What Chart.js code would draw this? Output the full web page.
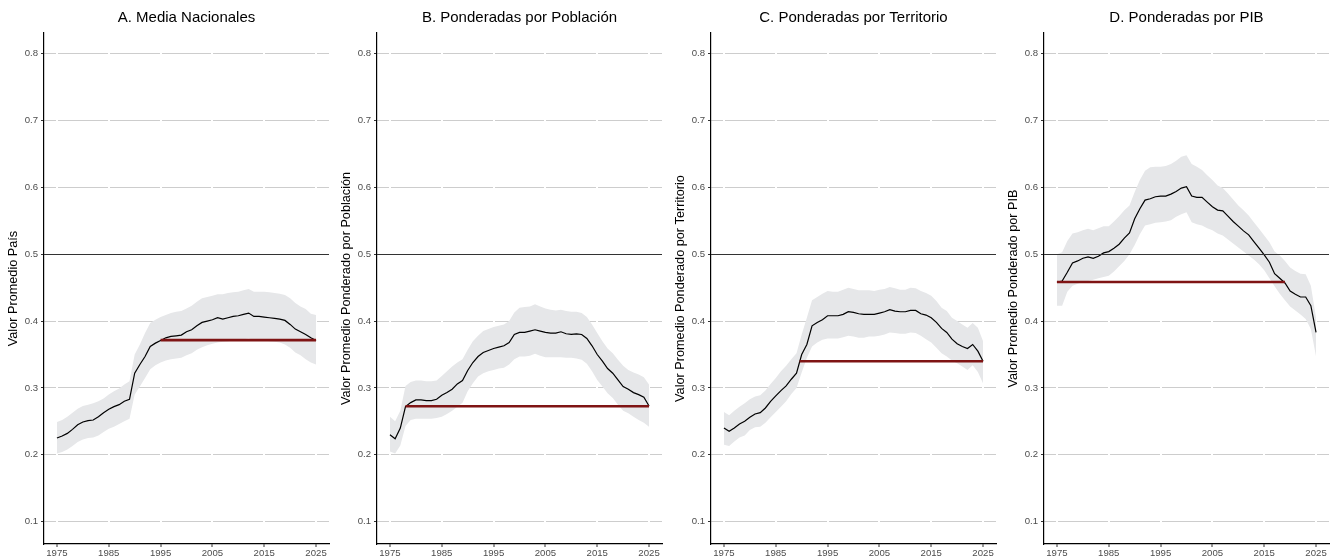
<!DOCTYPE html>
<html>
<head>
<meta charset="utf-8">
<script src="https://cdn.jsdelivr.net/npm/chart.js@4.4.1/dist/chart.umd.min.js"></script>
<style>
  body { margin: 0; background: #fff; }
  #wrap { position: relative; width: 1336px; height: 560px; }
  #wrap canvas { position: absolute; top: 0; }
</style>
</head>
<body>
<div id="wrap"></div>
<script>
const YEARS = [1975, 1976, 1977, 1978, 1979, 1980, 1981, 1982, 1983, 1984, 1985, 1986, 1987, 1988, 1989,
  1990, 1991, 1992, 1993, 1994, 1995, 1996, 1997, 1998, 1999, 2000, 2001, 2002, 2003, 2004, 2005,
  2006, 2007, 2008, 2009, 2010, 2011, 2012, 2013, 2014, 2015, 2016, 2017, 2018, 2019, 2020,
  2021, 2022, 2023, 2024, 2025];

const X_TICKS = [1975, 1985, 1995, 2005, 2015, 2025];
const Y_TICKS = [0.1, 0.2, 0.3, 0.4, 0.5, 0.6, 0.7, 0.8];
const MIDLINE = 0.5;

const TITLES = ['A. Media Nacionales', 'B. Ponderadas por Población', 'C. Ponderadas por Territorio', 'D. Ponderadas por PIB'];
const Y_TITLES = ['Valor Promedio País', 'Valor Promedio Ponderado por Población',
  'Valor Promedio Ponderado por Territorio', 'Valor Promedio Ponderado por PIB'];

// A. media nacionales
const A_MEAN = [0.225, 0.228, 0.232, 0.238, 0.245, 0.249, 0.251, 0.252, 0.257, 0.263, 0.268, 0.272, 0.275, 0.280, 0.283,
  0.322, 0.335, 0.347, 0.362, 0.367, 0.371, 0.375, 0.377, 0.378, 0.379, 0.384, 0.387, 0.393, 0.398, 0.400, 0.402,
  0.405, 0.403, 0.405, 0.407, 0.408, 0.410, 0.412, 0.407, 0.407, 0.406, 0.405, 0.404, 0.403, 0.401, 0.395,
  0.388, 0.384, 0.380, 0.375, 0.371];
const A_LOW = [0.202, 0.204, 0.208, 0.213, 0.219, 0.223, 0.225, 0.226, 0.229, 0.234, 0.239, 0.242, 0.246, 0.250, 0.254,
  0.290, 0.302, 0.315, 0.328, 0.334, 0.338, 0.341, 0.343, 0.344, 0.345, 0.349, 0.352, 0.357, 0.361, 0.364, 0.366,
  0.368, 0.369, 0.370, 0.371, 0.372, 0.373, 0.374, 0.372, 0.371, 0.371, 0.370, 0.369, 0.368, 0.365, 0.360,
  0.353, 0.349, 0.343, 0.338, 0.335];
const A_HIGH = [0.249, 0.252, 0.257, 0.263, 0.269, 0.273, 0.275, 0.277, 0.280, 0.284, 0.290, 0.295, 0.299, 0.305, 0.310,
  0.350, 0.365, 0.382, 0.397, 0.402, 0.406, 0.409, 0.412, 0.414, 0.415, 0.419, 0.423, 0.429, 0.434, 0.436, 0.438,
  0.440, 0.440, 0.442, 0.443, 0.444, 0.446, 0.448, 0.444, 0.444, 0.444, 0.443, 0.442, 0.441, 0.439, 0.434,
  0.427, 0.422, 0.418, 0.411, 0.409];

// B. ponderadas por poblacion
const B_MEAN = [0.230, 0.224, 0.240, 0.272, 0.278, 0.282, 0.282, 0.281, 0.281, 0.283, 0.289, 0.293, 0.298, 0.306, 0.311,
  0.326, 0.338, 0.347, 0.353, 0.356, 0.359, 0.361, 0.363, 0.368, 0.380, 0.383, 0.383, 0.385, 0.387, 0.385, 0.383,
  0.382, 0.382, 0.384, 0.381, 0.380, 0.381, 0.380, 0.374, 0.363, 0.350, 0.340, 0.329, 0.322, 0.312, 0.302,
  0.298, 0.293, 0.290, 0.286, 0.273];
const B_LOW = [0.205, 0.202, 0.214, 0.243, 0.252, 0.254, 0.254, 0.254, 0.254, 0.255, 0.257, 0.261, 0.266, 0.272, 0.278,
  0.295, 0.307, 0.317, 0.322, 0.325, 0.327, 0.329, 0.330, 0.335, 0.343, 0.347, 0.347, 0.348, 0.351, 0.348, 0.346,
  0.346, 0.346, 0.346, 0.345, 0.345, 0.344, 0.342, 0.336, 0.325, 0.312, 0.302, 0.292, 0.285, 0.275, 0.266,
  0.262, 0.257, 0.252, 0.248, 0.242];
const B_HIGH = [0.257, 0.250, 0.266, 0.303, 0.309, 0.311, 0.311, 0.310, 0.310, 0.311, 0.318, 0.325, 0.332, 0.338, 0.343,
  0.357, 0.370, 0.378, 0.385, 0.388, 0.391, 0.393, 0.395, 0.400, 0.413, 0.420, 0.421, 0.422, 0.425, 0.422, 0.419,
  0.417, 0.416, 0.417, 0.415, 0.414, 0.414, 0.412, 0.406, 0.395, 0.382, 0.370, 0.359, 0.352, 0.342, 0.333,
  0.327, 0.323, 0.320, 0.316, 0.305];

// C. ponderadas por territorio
const C_MEAN = [0.240, 0.235, 0.240, 0.246, 0.250, 0.256, 0.261, 0.263, 0.270, 0.280, 0.288, 0.296, 0.303, 0.313, 0.322,
  0.350, 0.365, 0.393, 0.398, 0.402, 0.408, 0.408, 0.408, 0.410, 0.414, 0.413, 0.411, 0.410, 0.410, 0.410, 0.412,
  0.414, 0.417, 0.415, 0.414, 0.414, 0.416, 0.416, 0.411, 0.409, 0.405, 0.398, 0.389, 0.383, 0.373, 0.366,
  0.362, 0.359, 0.365, 0.355, 0.340];
const C_LOW = [0.215, 0.213, 0.220, 0.226, 0.229, 0.237, 0.241, 0.242, 0.248, 0.256, 0.264, 0.272, 0.280, 0.291, 0.300,
  0.323, 0.345, 0.362, 0.368, 0.372, 0.374, 0.374, 0.374, 0.376, 0.378, 0.377, 0.375, 0.375, 0.377, 0.377, 0.378,
  0.380, 0.383, 0.382, 0.381, 0.381, 0.383, 0.382, 0.378, 0.373, 0.368, 0.360, 0.352, 0.347, 0.341, 0.337,
  0.332, 0.327, 0.334, 0.324, 0.307];
const C_HIGH = [0.264, 0.259, 0.266, 0.272, 0.277, 0.283, 0.287, 0.289, 0.296, 0.306, 0.315, 0.325, 0.333, 0.343, 0.352,
  0.380, 0.405, 0.431, 0.436, 0.441, 0.445, 0.444, 0.444, 0.447, 0.450, 0.448, 0.446, 0.446, 0.446, 0.445, 0.447,
  0.448, 0.451, 0.449, 0.447, 0.447, 0.450, 0.449, 0.445, 0.442, 0.438, 0.430, 0.420, 0.415, 0.405, 0.400,
  0.395, 0.390, 0.397, 0.390, 0.370];

// D. ponderadas por PIB
const D_MEAN = [0.458, 0.460, 0.473, 0.487, 0.490, 0.494, 0.496, 0.494, 0.497, 0.502, 0.504, 0.509, 0.515, 0.524, 0.532,
  0.553, 0.568, 0.581, 0.583, 0.586, 0.587, 0.587, 0.590, 0.594, 0.599, 0.601, 0.587, 0.585, 0.585, 0.578, 0.571,
  0.566, 0.565, 0.557, 0.549, 0.542, 0.535, 0.529, 0.519, 0.509, 0.499, 0.488, 0.471, 0.464, 0.457, 0.445,
  0.440, 0.436, 0.436, 0.423, 0.383];
const D_LOW = [0.423, 0.423, 0.444, 0.453, 0.456, 0.458, 0.460, 0.462, 0.464, 0.466, 0.468, 0.474, 0.482, 0.490, 0.500,
  0.514, 0.530, 0.543, 0.545, 0.547, 0.548, 0.549, 0.551, 0.556, 0.560, 0.563, 0.548, 0.545, 0.543, 0.539, 0.536,
  0.531, 0.528, 0.522, 0.516, 0.510, 0.504, 0.498, 0.492, 0.485, 0.476, 0.464, 0.452, 0.441, 0.431, 0.422,
  0.416, 0.410, 0.403, 0.388, 0.347];
const D_HIGH = [0.500, 0.503, 0.520, 0.531, 0.533, 0.536, 0.538, 0.536, 0.539, 0.542, 0.542, 0.549, 0.557, 0.566, 0.573,
  0.593, 0.611, 0.625, 0.630, 0.631, 0.631, 0.632, 0.635, 0.640, 0.646, 0.648, 0.635, 0.631, 0.626, 0.618, 0.611,
  0.603, 0.599, 0.591, 0.582, 0.573, 0.566, 0.558, 0.548, 0.538, 0.528, 0.518, 0.504, 0.498, 0.490, 0.480,
  0.475, 0.471, 0.470, 0.453, 0.405];

// red horizontal average lines
const REF_VALUES = [0.3715, 0.2725, 0.340, 0.4585];
const REF_START = [1995, 1978, 1989.6, 1975];
const REF_END = [2025, 2025, 2025, 2019];

const MEANS = [A_MEAN, B_MEAN, C_MEAN, D_MEAN];
const LOWS = [A_LOW, B_LOW, C_LOW, D_LOW];
const HIGHS = [A_HIGH, B_HIGH, C_HIGH, D_HIGH];

Chart.defaults.font.family = '"Liberation Sans", Arial, Helvetica, sans-serif';

const pts = (arr) => YEARS.map((yr, i) => ({ x: yr, y: arr[i] }));

// black line at 0.5
const midLine = {
  id: 'midLine',
  afterDatasetsDraw(chart) {
    const { ctx, chartArea, scales } = chart;
    const py = Math.round(scales.y.getPixelForValue(MIDLINE)) + 0.5;
    ctx.save();
    ctx.strokeStyle = '#333';
    ctx.lineWidth = 1;
    ctx.beginPath();
    ctx.moveTo(chartArea.left, py);
    ctx.lineTo(chartArea.right, py);
    ctx.stroke();
    ctx.restore();
  }
};

const wrap = document.getElementById('wrap');
const lefts = [0, 333, 667, 1000];

for (let p = 0; p < 4; p++) {
  const canvas = document.createElement('canvas');
  canvas.width = 334;
  canvas.height = 560;
  canvas.style.left = lefts[p] + 'px';
  wrap.appendChild(canvas);

  new Chart(canvas.getContext('2d'), {
    type: 'line',
    data: {
      datasets: [
        { data: pts(LOWS[p]), borderWidth: 0, pointRadius: 0, fill: false, order: 4 },
        { data: pts(HIGHS[p]), borderWidth: 0, pointRadius: 0, fill: '-1', backgroundColor: '#e6e7e9', order: 3 },
        { data: pts(MEANS[p]), borderColor: '#000', borderWidth: 1.2, pointRadius: 0, fill: false, order: 2 },
        {
          data: [{ x: REF_START[p], y: REF_VALUES[p] }, { x: REF_END[p], y: REF_VALUES[p] }],
          borderColor: '#7f1414', borderWidth: 2.6, pointRadius: 0, fill: false, order: 1
        }
      ]
    },
    options: {
      responsive: false,
      animation: false,
      layout: { padding: { left: 0, right: 5, top: 0, bottom: 0 } },
      plugins: {
        legend: { display: false },
        tooltip: { enabled: false },
        title: {
          display: true,
          text: TITLES[p],
          fullSize: false,
          color: '#000',
          font: { size: 15, weight: 'normal' },
          padding: { top: 9, bottom: 6 }
        }
      },
      scales: {
        x: {
          type: 'linear',
          min: 1972.5,
          max: 2027.5,
          afterBuildTicks: (s) => { s.ticks = X_TICKS.map(v => ({ value: v })); },
          afterFit: (s) => { s.height = 16; s.paddingLeft = 0; s.paddingRight = 0; },
          ticks: {
            callback: (v) => String(v),
            color: '#4d4d4d',
            font: { size: 9.6 },
            padding: 1,
            maxRotation: 0,
            autoSkip: false
          },
          grid: { color: '#fff', lineWidth: 2, tickColor: '#333', tickLength: 3, tickWidth: 1, z: 0 },
          border: { color: '#000', width: 1.2 }
        },
        y: {
          min: 0.0665,
          max: 0.831,
          afterBuildTicks: (s) => { s.ticks = Y_TICKS.map(v => ({ value: v })); },
          afterFit: (s) => { s.width = 44; },
          ticks: {
            callback: (v) => v.toFixed(1),
            color: '#4d4d4d',
            font: { size: 9.6 },
            padding: 3
          },
          grid: { color: '#cdcdcd', lineWidth: 1, tickColor: '#333', tickLength: 3, tickWidth: 1, z: -1 },
          border: { color: '#000', width: 1.2 },
          title: {
            display: true,
            text: Y_TITLES[p],
            color: '#000',
            font: { size: 12.7 },
            padding: { top: 5.5, bottom: 0 }
          }
        }
      }
    },
    plugins: [midLine]
  });
}
</script>
</body>
</html>
